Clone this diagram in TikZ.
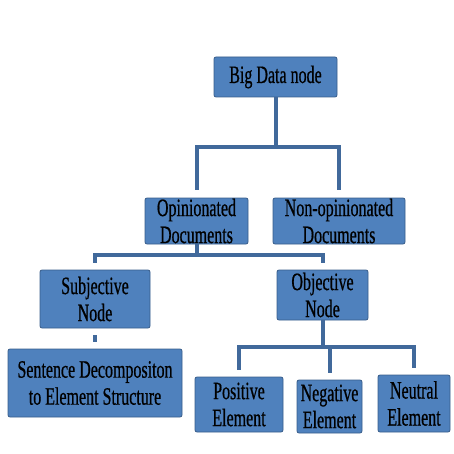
\documentclass[tikz,border=0pt]{standalone}
\usepackage{fontspec}
\usepackage{tikz}
\usepackage{xcolor}
\newfontfamily\boxfont[FakeStretch=0.64, FakeBold=0.6]{Liberation Serif}
\definecolor{boxblue}{HTML}{4F81BD}
\definecolor{boxedge}{HTML}{385D8A}
\definecolor{linkblue}{HTML}{41699B}

\begin{document}
\begin{tikzpicture}[x=1pt, y=-1pt,
        box/.style={draw=boxedge, line width=0.8pt, fill=boxblue, rounded corners=2pt,
            inner sep=0pt, align=center, text=black,
            font=\boxfont\fontsize{25}{27}\selectfont},
        link/.style={draw=linkblue, line width=4pt}]
        % Fix the margins
        \useasboundingbox (0,0) rectangle (454,454);

        % Top node
        \node[box, minimum width=123pt, minimum height=40pt] (big) at (275.5,77) {Big Data node};

        % Documents
        \node[box, minimum width=103pt, minimum height=46pt] (opin) at (196.5,221) {Opinionated\\Documents};
        \node[box, minimum width=132pt, minimum height=46pt] (nonop) at (339,221) {Non-opinionated\\Documents};

        % Subjective and objective nodes
        \node[box, minimum width=110pt, minimum height=58pt] (subj) at (95,299) {Subjective\\Node};
        \node[box, minimum width=91pt, minimum height=50pt] (obj) at (322.5,295) {Objective\\Node};

        % Leaves
        \node[box, minimum width=174pt, minimum height=68pt] (sent) at (95,383) {Sentence Decompositon\\to Element Structure};
        \node[box, minimum width=88pt, minimum height=55pt] (pos) at (239,404.5) {Positive\\Element};
        \node[box, minimum width=65pt, minimum height=53pt] (neg) at (329.5,406.5) {Negative\\Element};
        \node[box, minimum width=72pt, minimum height=57pt] (neut) at (414,403.5) {Neutral\\Element};

        % Connectors
        \draw[link, shorten >=8pt] (big.south) -- ++(0,50) -| (opin.north);
        \draw[link, shorten >=8pt] (big.south) -- ++(0,50) -| (nonop.north);
        \draw[link, shorten >=7pt] (opin.south) -- ++(0,11) -| (subj.north);
        \draw[link, shorten >=7pt] (opin.south) -- ++(0,11) -| (obj.north);
        \draw[link, shorten <=7pt, shorten >=7pt] (subj.south) -- (sent.north);
        \foreach \leaf in {pos,neg,neut}
            \draw[link, shorten >=7pt] (obj.south) -- ++(0,27) -| (\leaf.north);

    \end{tikzpicture}
\end{document}
